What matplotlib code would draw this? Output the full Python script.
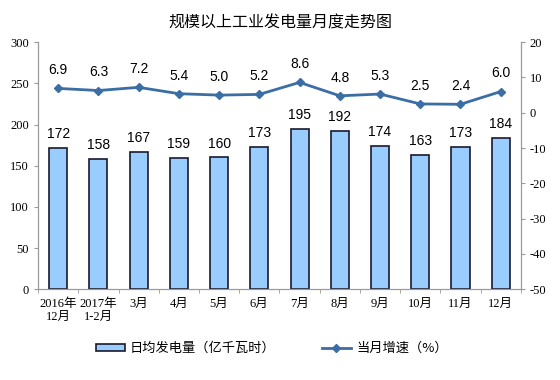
import matplotlib

matplotlib.use("Agg")
import matplotlib.pyplot as plt

categories = ["2016年\n12月", "2017年\n1-2月", "3月", "4月", "5月", "6月",
              "7月", "8月", "9月", "10月", "11月", "12月"]
daily_output = [172, 158, 167, 159, 160, 173, 195, 192, 174, 163, 173, 184]
growth = [6.9, 6.3, 7.2, 5.4, 5.0, 5.2, 8.6, 4.8, 5.3, 2.5, 2.4, 6.0]

plt.rcParams["font.family"] = ["Liberation Serif", "Noto Sans CJK SC"]
plt.rcParams["axes.unicode_minus"] = False

fig = plt.figure(figsize=(5.6, 3.8), dpi=100)
ax = fig.add_axes([0.068, 0.239, 0.862, 0.650])
ax2 = ax.twinx()

x = range(len(categories))
bars = ax.bar(x, daily_output, width=0.45, color="#99ccff", edgecolor="#1a1a2e",
              linewidth=1.2, label="日均发电量（亿千瓦时）", zorder=2)
for xi, v in zip(x, daily_output):
    ax.annotate(str(v), (xi, v), xytext=(0, 5), textcoords="offset points",
                ha="center", va="bottom", fontsize=10, family=["Liberation Sans"])

line, = ax2.plot(x, growth, color="#3a6ea5", linewidth=2, marker="D", markersize=4,
                 label="当月增速（%）", zorder=3)
for xi, v in zip(x, growth):
    ax2.annotate(f"{v:.1f}", (xi, v), xytext=(0, 8), textcoords="offset points",
                 ha="center", va="bottom", fontsize=10, family=["Liberation Sans"])

ax.set_xlim(-0.5, len(categories) - 0.5)
ax.set_ylim(0, 300)
ax.set_yticks(range(0, 301, 50))
ax2.set_ylim(-50, 20)
ax2.set_yticks(range(-50, 21, 10))

ax.set_xticks(list(x))
ax.set_xticklabels(categories, fontsize=9)
ax.set_xticks([i - 0.5 for i in range(len(categories) + 1)], minor=True)
ax.tick_params(axis="x", which="major", length=0, pad=6)
ax.tick_params(axis="x", which="minor", length=3, color="#999999")
ax.tick_params(axis="y", labelsize=9, length=3, color="#999999")
ax2.tick_params(axis="y", labelsize=9, length=3, color="#999999")

for a in (ax, ax2):
    a.spines["top"].set_visible(False)
    for s in ("left", "right", "bottom"):
        a.spines[s].set_color("#999999")

fig.text(0.5, 0.94, "规模以上工业发电量月度走势图", ha="center", va="center",
         fontsize=11.5, family=["Noto Sans CJK SC"])

fig.legend(handles=[bars, line], loc="center", bbox_to_anchor=(0.485, 0.083), ncol=2,
           frameon=False, columnspacing=3.5, handlelength=2.2, handleheight=0.5,
           handletextpad=0.4, prop={"family": ["Noto Sans CJK SC"], "size": 9.5})

plt.savefig("out.png", dpi=100)
plt.close()
